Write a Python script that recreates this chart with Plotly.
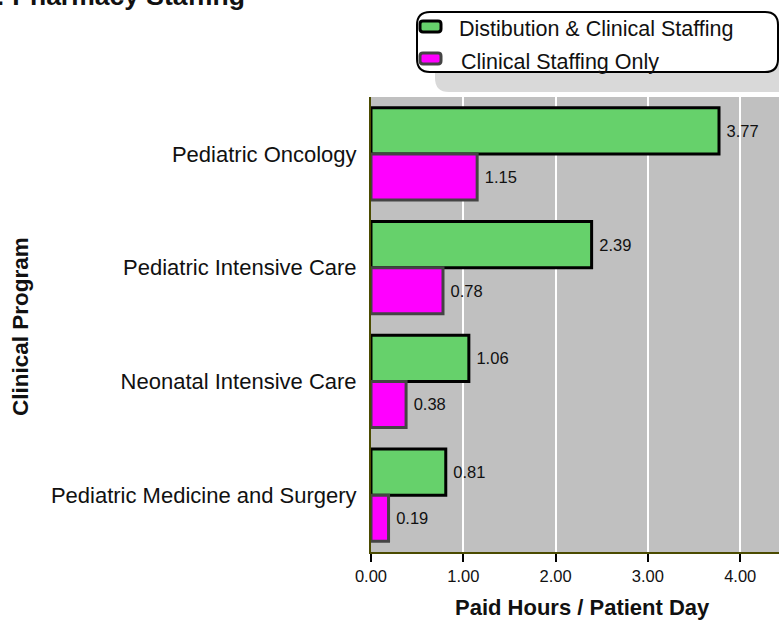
import plotly.graph_objects as go

# data
programs = ["Pediatric Oncology", "Pediatric Intensive Care",
            "Neonatal Intensive Care", "Pediatric Medicine and Surgery"]
series_names = ["Distibution & Clinical Staffing", "Clinical Staffing Only"]
dist_clinical = [3.77, 2.39, 1.06, 0.81]
clinical_only = [1.15, 0.78, 0.38, 0.19]
x_ticks = [0, 1, 2, 3, 4]

W, H = 779, 620
L, R, T, B = 371, 0, 97, 68
pw, ph = W - L - R, H - T - B

def px(x):
    return (x - L) / pw

def py(y):
    return (H - B - y) / ph

def rrect(x0, y0, x1, y1, r):
    # rounded rectangle path in paper coords, pixel inputs
    p = lambda x, y: f"{px(x):.5f},{py(y):.5f}"
    return (f"M {p(x0 + r, y0)} L {p(x1 - r, y0)} Q {p(x1, y0)} {p(x1, y0 + r)} "
            f"L {p(x1, y1 - r)} Q {p(x1, y1)} {p(x1 - r, y1)} "
            f"L {p(x0 + r, y1)} Q {p(x0, y1)} {p(x0, y1 - r)} "
            f"L {p(x0, y0 + r)} Q {p(x0, y0)} {p(x0 + r, y0)} Z")

font = "Arial, Liberation Sans, sans-serif"
green, magenta = "#66D16B", "#FF00FF"

fig = go.Figure()
fig.add_trace(go.Bar(
    y=programs, x=dist_clinical, orientation="h", name=series_names[0],
    marker=dict(color=green, line=dict(color="black", width=3)),
    texttemplate=" %{x:.2f}", textposition="outside",
    textfont=dict(size=16.5, color="#111"), cliponaxis=False,
))
fig.add_trace(go.Bar(
    y=programs, x=clinical_only, orientation="h", name=series_names[1],
    marker=dict(color=magenta, line=dict(color="#444444", width=3)),
    texttemplate=" %{x:.2f}", textposition="outside",
    textfont=dict(size=16.5, color="#111"), cliponaxis=False,
))

shapes = [
    dict(type="path", xref="paper", yref="paper", path=rrect(435, 28, 800, 92, 14),
         fillcolor="#D9D9D9", line=dict(width=0), layer="above"),
    dict(type="path", xref="paper", yref="paper", path=rrect(417, 12, 778, 72, 13),
         fillcolor="white", line=dict(color="black", width=2), layer="above"),
    dict(type="path", xref="paper", yref="paper", path=rrect(420, 21, 441, 32, 3),
         fillcolor=green, line=dict(color="black", width=3), layer="above"),
    dict(type="path", xref="paper", yref="paper", path=rrect(420, 53, 441, 64, 3),
         fillcolor=magenta, line=dict(color="#444444", width=3), layer="above"),
]

annotations = [
    dict(text=series_names[0], x=px(457), y=py(29), xref="paper", yref="paper",
         xanchor="left", yanchor="middle", showarrow=False,
         font=dict(size=21.5, color="#111", family=font)),
    dict(text=series_names[1], x=px(459), y=py(62), xref="paper", yref="paper",
         xanchor="left", yanchor="middle", showarrow=False,
         font=dict(size=21.5, color="#111", family=font)),
    dict(text="<b>Paid Hours / Patient Day</b>", x=px(582), y=py(607), xref="paper",
         yref="paper", xanchor="center", yanchor="middle", showarrow=False,
         font=dict(size=22, color="#111", family=font)),
    dict(text="<b>Clinical Program</b>", x=px(20), y=py(327), xref="paper",
         yref="paper", xanchor="center", yanchor="middle", showarrow=False,
         textangle=-90, font=dict(size=22.5, color="#111", family=font)),
    dict(text="<b>Figure 1: Pharmacy Staffing</b>", x=px(247), y=py(13), xref="paper",
         yref="paper", xanchor="right", yanchor="bottom", showarrow=False,
         font=dict(size=26.5, color="#111", family=font)),
]

fig.update_layout(
    width=W, height=H,
    margin=dict(l=L, r=R, t=T, b=B),
    paper_bgcolor="white", plot_bgcolor="#C0C0C0",
    barmode="group", bargap=0.19, bargroupgap=0,
    showlegend=False,
    font=dict(family=font, color="#111"),
    shapes=shapes, annotations=annotations,
)
fig.update_xaxes(
    range=[0, 4.42], tickvals=x_ticks, tickformat=".2f",
    ticks="outside", ticklen=8, tickwidth=2, tickcolor="black",
    showline=True, linecolor="#4B4B00", linewidth=2,
    showgrid=True, gridcolor="white", gridwidth=2, zeroline=False,
    tickfont=dict(size=16.5, color="#111"),
)
fig.update_yaxes(
    autorange="reversed", showline=True, linecolor="#4B4B00", linewidth=2,
    ticks="", ticklabelstandoff=8, showgrid=False,
    tickfont=dict(size=22, color="#111"),
)

fig.write_html("out.html", config={"displayModeBar": False},
               post_script="document.body.style.margin='0';")
